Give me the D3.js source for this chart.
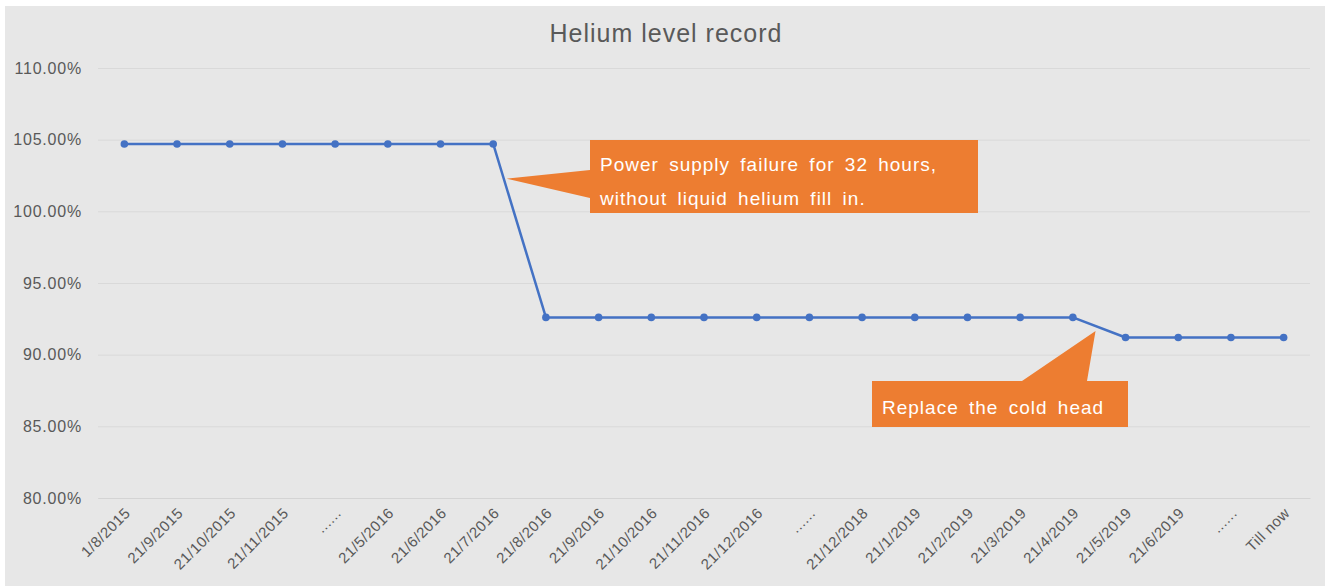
<!DOCTYPE html>
<html>
<head>
<meta charset="utf-8">
<script src="https://cdn.jsdelivr.net/npm/d3@7"></script>
<style>
  body { margin: 0; background: #fff; }
  text { font-family: "Liberation Sans", Arial, sans-serif; }
</style>
</head>
<body>
<svg id="chart" width="1328" height="586"></svg>
<script>
// data
var categories = ["1/8/2015", "21/9/2015", "21/10/2015", "21/11/2015", "......",
  "21/5/2016", "21/6/2016", "21/7/2016", "21/8/2016", "21/9/2016", "21/10/2016",
  "21/11/2016", "21/12/2016", "......", "21/12/2018", "21/1/2019", "21/2/2019",
  "21/3/2019", "21/4/2019", "21/5/2019", "21/6/2019", "......", "Till now"];
var helium = [104.7, 104.7, 104.7, 104.7, 104.7, 104.7, 104.7, 104.7,
  92.6, 92.6, 92.6, 92.6, 92.6, 92.6, 92.6, 92.6, 92.6, 92.6, 92.6,
  91.2, 91.2, 91.2, 91.2];
var yTicks = [80, 85, 90, 95, 100, 105, 110];

var svg = d3.select("#chart");

// panel background
svg.append("rect").attr("x", 5).attr("y", 6).attr("width", 1320).attr("height", 580)
  .attr("fill", "#e7e7e7");

var x = d3.scaleBand().domain(d3.range(categories.length)).range([98, 1310]);
var y = d3.scaleLinear().domain([80, 110]).range([498, 68]);
function cx(i) { return x(i) + x.bandwidth() / 2; }

// title
svg.append("text").attr("x", 666).attr("y", 42).attr("text-anchor", "middle")
  .attr("font-size", 25).attr("letter-spacing", 1).attr("fill", "#595959")
  .text("Helium level record");

// grid + y axis
var yAxis = d3.axisLeft(y).tickValues(yTicks).tickSize(-(1310 - 98))
  .tickFormat(function(d){ return d3.format(".2f")(d) + "%"; });
var gy = svg.append("g").attr("transform", "translate(98,0)").call(yAxis);
gy.select(".domain").remove();
gy.selectAll(".tick line").attr("stroke", "#d9d9d9").attr("stroke-width", 1);
gy.selectAll(".tick text").attr("x", -16).attr("font-size", 16).attr("letter-spacing", 0.8)
  .attr("fill", "#595959")
  .attr("font-family", "Liberation Sans, Arial, sans-serif");

// x axis labels
var xAxis = d3.axisBottom(x).tickSize(0).tickFormat(function(i){ return categories[i]; });
var gx = svg.append("g").attr("transform", "translate(0,498)").call(xAxis);
gx.select(".domain").attr("stroke", "#d4d4d4");
gx.selectAll(".tick text")
  .attr("font-size", 15).attr("letter-spacing", 0.5).attr("fill", "#595959")
  .attr("font-family", "Liberation Sans, Arial, sans-serif")
  .attr("text-anchor", "end").attr("dy", null).attr("y", 0)
  .attr("transform", "translate(7,16) rotate(-45)");

// line + markers
var line = d3.line().x(function(d, i){ return cx(i); }).y(function(d){ return y(d); });
svg.append("path").datum(helium).attr("d", line).attr("fill", "none")
  .attr("stroke", "#4472c4").attr("stroke-width", 2.5).attr("stroke-linejoin", "round");
svg.append("g").selectAll("circle").data(helium).enter().append("circle")
  .attr("cx", function(d, i){ return cx(i); })
  .attr("cy", function(d){ return y(d); })
  .attr("r", 3.8).attr("fill", "#4472c4");

// callouts
function along(i, t) {
  return [cx(i) + t * (cx(i + 1) - cx(i)), y(helium[i]) + t * (y(helium[i + 1]) - y(helium[i]))];
}
var orange = "#ed7d31";

// callout 1: power failure
var tip1 = along(7, 0.2);
var b1 = { x: 590, y: 140, w: 388, h: 73 };
svg.append("path").attr("fill", orange)
  .attr("d", "M" + b1.x + "," + b1.y + "H" + (b1.x + b1.w) + "V" + (b1.y + b1.h) + "H" + b1.x +
    "V" + (b1.y + 58) + "L" + (tip1[0] + 3) + "," + (tip1[1]) + "L" + b1.x + "," + (b1.y + 30) + "Z");
svg.append("text").attr("x", 600).attr("y", 171).attr("font-size", 19).attr("fill", "#fff")
  .attr("letter-spacing", 1).attr("word-spacing", 4).text("Power supply failure for 32 hours,");
svg.append("text").attr("x", 600).attr("y", 205).attr("font-size", 19).attr("fill", "#fff")
  .attr("letter-spacing", 1).attr("word-spacing", 4).text("without liquid helium fill in.");

// callout 2: cold head
var tip2 = along(18, 0.43);
var b2 = { x: 872, y: 381, w: 256, h: 46 };
svg.append("path").attr("fill", orange)
  .attr("d", "M" + b2.x + "," + b2.y + "H" + 1022 + "L" + tip2[0] + "," + (tip2[1] + 5) +
    "L" + 1087 + "," + b2.y + "H" + (b2.x + b2.w) + "V" + (b2.y + b2.h) + "H" + b2.x + "Z");
svg.append("text").attr("x", 882).attr("y", 414).attr("font-size", 19).attr("fill", "#fff")
  .attr("letter-spacing", 1).attr("word-spacing", 4).text("Replace the cold head");
</script>
</body>
</html>
